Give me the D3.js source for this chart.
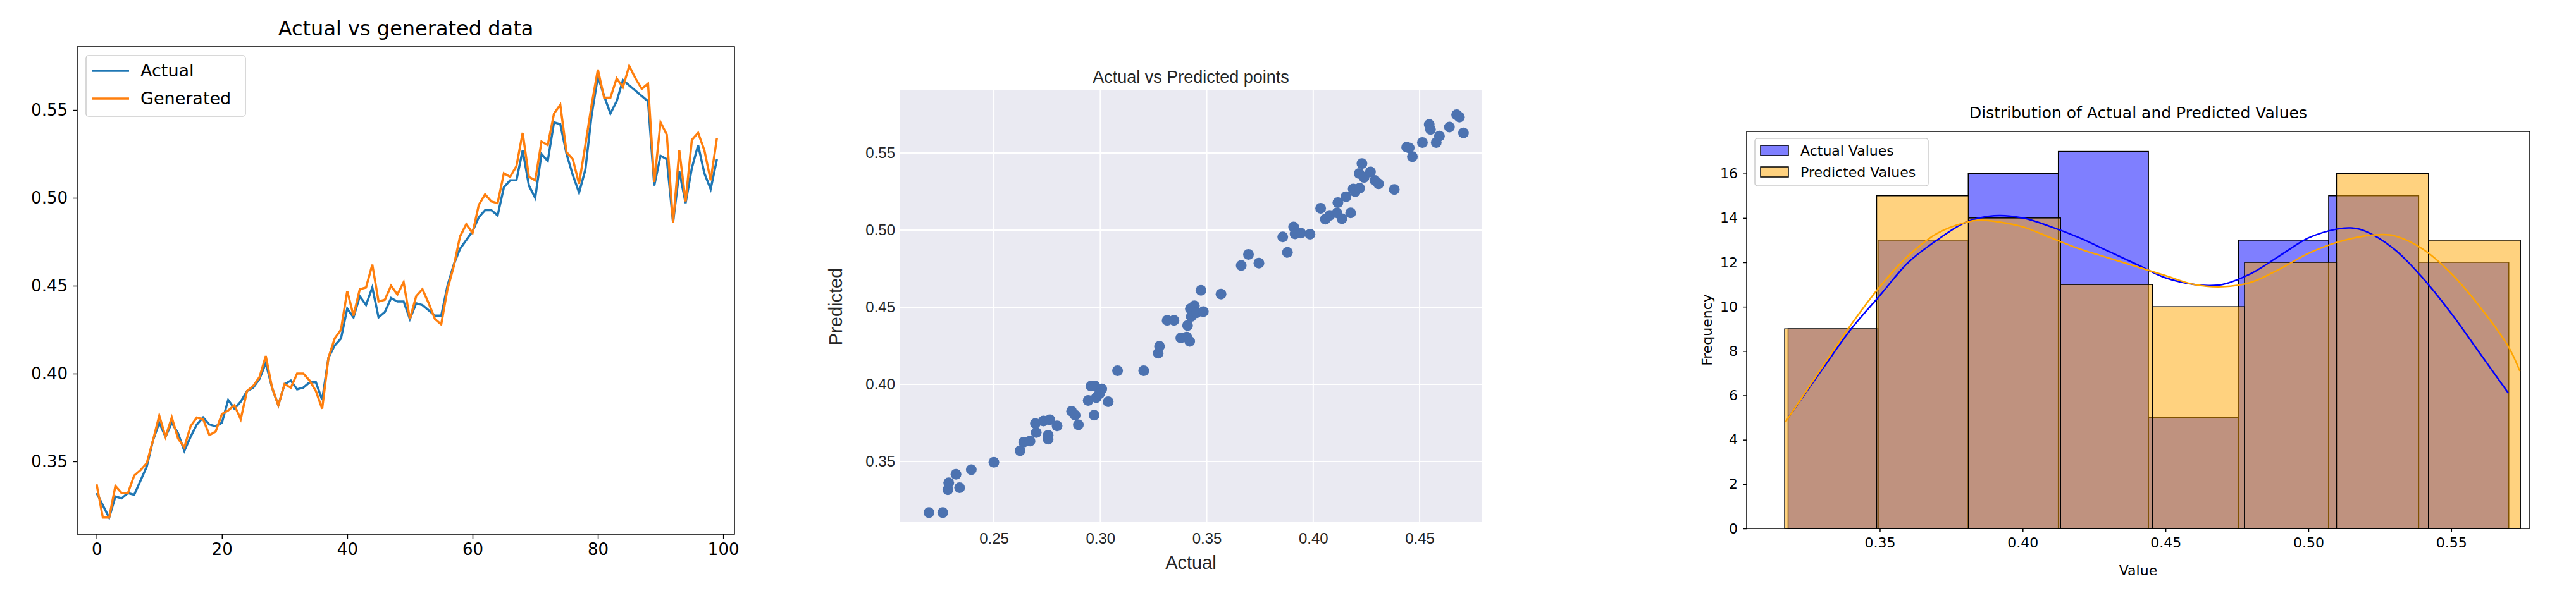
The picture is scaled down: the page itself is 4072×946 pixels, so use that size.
<!DOCTYPE html>
<html><head><meta charset="utf-8">
<script src="https://cdn.jsdelivr.net/npm/d3@7"></script>
<style>body{margin:0;background:#fff}</style></head>
<body><svg id="c" width="4072" height="946"></svg>
<script>
const actualSeries=[0.332,0.325,0.318,0.330,0.329,0.332,0.331,0.339,0.347,0.362,0.372,0.364,0.372,0.366,0.356,0.364,0.371,0.375,0.371,0.370,0.372,0.385,0.380,0.384,0.390,0.392,0.397,0.406,0.392,0.382,0.394,0.396,0.391,0.392,0.395,0.395,0.385,0.409,0.416,0.420,0.437,0.432,0.444,0.439,0.449,0.432,0.435,0.443,0.441,0.441,0.431,0.440,0.439,0.436,0.433,0.433,0.450,0.462,0.471,0.476,0.481,0.489,0.493,0.493,0.490,0.506,0.510,0.510,0.527,0.507,0.500,0.525,0.521,0.543,0.542,0.525,0.513,0.503,0.516,0.547,0.569,0.558,0.548,0.555,0.567,0.564,0.561,0.558,0.555,0.507,0.524,0.522,0.486,0.515,0.497,0.517,0.530,0.514,0.505,0.522];
const generatedSeries=[0.337,0.318,0.318,0.336,0.332,0.332,0.342,0.345,0.349,0.362,0.376,0.364,0.375,0.363,0.358,0.370,0.375,0.374,0.365,0.367,0.377,0.379,0.382,0.374,0.390,0.393,0.398,0.410,0.392,0.382,0.394,0.392,0.400,0.400,0.396,0.390,0.380,0.409,0.420,0.425,0.447,0.433,0.448,0.449,0.462,0.441,0.442,0.450,0.445,0.452,0.431,0.444,0.448,0.440,0.431,0.428,0.448,0.461,0.478,0.485,0.480,0.496,0.502,0.498,0.497,0.514,0.512,0.518,0.537,0.512,0.510,0.532,0.530,0.548,0.553,0.526,0.522,0.508,0.530,0.553,0.573,0.557,0.557,0.568,0.563,0.575,0.568,0.562,0.565,0.509,0.543,0.536,0.486,0.527,0.498,0.533,0.537,0.527,0.510,0.534];
const scatterActual=[0.2195,0.226,0.2284,0.2288,0.2322,0.2339,0.2394,0.25,0.2623,0.2640,0.2670,0.2699,0.2695,0.2733,0.2763,0.2755,0.2755,0.2797,0.2865,0.2882,0.2897,0.2971,0.2943,0.2956,0.2975,0.2981,0.3007,0.2996,0.3037,0.3081,0.3204,0.3272,0.3278,0.3314,0.3346,0.3378,0.3406,0.3420,0.3410,0.3423,0.3442,0.3427,0.3452,0.3484,0.3473,0.3567,0.3662,0.3696,0.3745,0.3857,0.3879,0.3908,0.3915,0.3942,0.3985,0.4035,0.4057,0.4078,0.4116,0.4112,0.4135,0.4154,0.4176,0.4188,0.4197,0.4218,0.4216,0.4229,0.4239,0.4269,0.4290,0.4307,0.4381,0.4439,0.4451,0.4466,0.4513,0.4545,0.4551,0.4578,0.4593,0.4640,0.4674,0.4687,0.4706];
const scatterPred=[0.3169,0.3169,0.3317,0.3362,0.3417,0.3330,0.3447,0.3495,0.3570,0.3625,0.3633,0.3688,0.3746,0.3763,0.3771,0.3645,0.3670,0.3731,0.3826,0.3801,0.3738,0.3801,0.3896,0.3989,0.3989,0.3914,0.3971,0.3939,0.3888,0.4089,0.4089,0.4202,0.4247,0.4415,0.4415,0.4302,0.4307,0.4279,0.4382,0.4490,0.4510,0.4440,0.4465,0.4472,0.4610,0.4585,0.4771,0.4843,0.4786,0.4956,0.4856,0.5021,0.4976,0.4981,0.4974,0.5142,0.5071,0.5096,0.5179,0.5112,0.5074,0.5217,0.5112,0.5267,0.5249,0.5272,0.5367,0.5432,0.5342,0.5377,0.5322,0.5300,0.5264,0.5538,0.5533,0.5477,0.5568,0.5685,0.5653,0.5568,0.5610,0.5668,0.5748,0.5733,0.5630];
const actualBinStart=0.3179, actualBinWidth=0.03153, actualCounts=[9,13,16,17,5,13,15,12];
const predBinStart=0.3167, predBinWidth=0.03219, predCounts=[9,15,14,11,10,12,16,13];
const kdeActualX=[0.318,0.33,0.34,0.35,0.36,0.37,0.38,0.39,0.40,0.41,0.42,0.43,0.44,0.45,0.46,0.465,0.47,0.48,0.49,0.50,0.51,0.515,0.52,0.53,0.54,0.55,0.56,0.570];
const kdeActualY=[5.0,7.2,9.0,10.5,12.0,13.0,13.8,14.1,14.0,13.6,13.1,12.5,11.9,11.3,11.0,10.95,11.0,11.5,12.3,13.1,13.5,13.55,13.4,12.6,11.3,9.7,7.9,6.1];
const kdePredX=[0.317,0.33,0.34,0.35,0.36,0.37,0.38,0.385,0.39,0.40,0.41,0.42,0.43,0.44,0.45,0.46,0.47,0.48,0.49,0.50,0.51,0.52,0.525,0.53,0.54,0.55,0.56,0.57,0.574];
const kdePredY=[4.8,7.3,9.2,10.9,12.3,13.3,13.8,13.9,13.85,13.6,13.1,12.6,12.2,11.8,11.4,11.0,10.9,11.1,11.7,12.4,12.9,13.2,13.25,13.2,12.6,11.5,10.0,8.2,7.1];
const lineXTicks=[0,20,40,60,80,100], lineYTicks=[0.35,0.40,0.45,0.50,0.55];
const scXTicks=[0.25,0.30,0.35,0.40,0.45], scYTicks=[0.35,0.40,0.45,0.50,0.55];
const hXTicks=[0.35,0.40,0.45,0.50,0.55], hYTicks=[0,2,4,6,8,10,12,14,16];

const svg=d3.select("#c");
const DJ="DejaVu Sans", AR="Liberation Sans, Arial";
function axes(g,x,y,xt,yt,fmtX,fmtY,fs,font,tick){
  const ax=g.append("g").attr("transform",`translate(0,${y.range()[0]})`).call(d3.axisBottom(x).tickValues(xt).tickFormat(fmtX).tickSize(tick).tickPadding(8));
  const ay=g.append("g").attr("transform",`translate(${x.range()[0]},0)`).call(d3.axisLeft(y).tickValues(yt).tickFormat(fmtY).tickSize(tick).tickPadding(8));
  [ax,ay].forEach(a=>{a.select(".domain").remove();a.selectAll("text").attr("font-family",font).attr("font-size",fs).attr("fill","#000");a.selectAll("line").attr("stroke","#000").attr("stroke-width",1.5);});
  return [ax,ay];
}
// Panel 1
{
const X0=122,X1=1161,Y0=74,Y1=845;
const x=d3.scaleLinear().domain([-3.1,101.8]).range([X0,X1]);
const y=d3.scaleLinear().domain([0.3086,0.586]).range([Y1,Y0]);
const g=svg.append("g");
axes(g,x,y,lineXTicks,lineYTicks,d3.format("d"),d3.format(".2f"),26,DJ,7);
const ln=d3.line().x((d,i)=>x(i)).y(d=>y(d));
g.append("path").attr("d",ln(actualSeries)).attr("fill","none").attr("stroke","#1f77b4").attr("stroke-width",3.5);
g.append("path").attr("d",ln(generatedSeries)).attr("fill","none").attr("stroke","#ff7f0e").attr("stroke-width",3.5);
g.append("rect").attr("x",X0).attr("y",Y0).attr("width",X1-X0).attr("height",Y1-Y0).attr("fill","none").attr("stroke","#000").attr("stroke-width",1.5);
g.append("text").attr("x",(X0+X1)/2).attr("y",56).attr("text-anchor","middle").attr("font-family",DJ).attr("font-size",32).text("Actual vs generated data");
const L=g.append("g");
L.append("rect").attr("x",136).attr("y",88).attr("width",252).attr("height",96).attr("rx",4).attr("fill","#fff").attr("stroke","#ccc").attr("stroke-width",1.5);
[["Actual","#1f77b4"],["Generated","#ff7f0e"]].forEach((d,i)=>{
 L.append("line").attr("x1",146).attr("x2",204).attr("y1",112+i*44).attr("y2",112+i*44).attr("stroke",d[1]).attr("stroke-width",3.5);
 L.append("text").attr("x",222).attr("y",121+i*44).attr("font-family",DJ).attr("font-size",27).text(d[0]);
});
}
// Panel 2
{
const X0=1423,X1=2342,Y0=143,Y1=826;
const x=d3.scaleLinear().domain([0.206,0.4791]).range([X0,X1]);
const y=d3.scaleLinear().domain([0.3107,0.5906]).range([Y1,Y0]);
const g=svg.append("g");
g.append("rect").attr("x",X0).attr("y",Y0).attr("width",X1-X0).attr("height",Y1-Y0).attr("fill","#eaeaf2");
scXTicks.forEach(t=>g.append("line").attr("x1",x(t)).attr("x2",x(t)).attr("y1",Y0).attr("y2",Y1).attr("stroke","#fff").attr("stroke-width",2));
scYTicks.forEach(t=>g.append("line").attr("y1",y(t)).attr("y2",y(t)).attr("x1",X0).attr("x2",X1).attr("stroke","#fff").attr("stroke-width",2));
const [ax,ay]=axes(g,x,y,scXTicks,scYTicks,d3.format(".2f"),d3.format(".2f"),24,AR,0);
[ax,ay].forEach(a=>a.selectAll("text").attr("fill","#262626"));
ax.selectAll("text").attr("dy","1.1em");
g.selectAll(".pt").data(scatterActual).join("circle").attr("cx",d=>x(d)).attr("cy",(d,i)=>y(scatterPred[i])).attr("r",8.5).attr("fill","#4c72b0");
g.append("text").attr("x",(X0+X1)/2).attr("y",131).attr("text-anchor","middle").attr("font-family",AR).attr("font-size",27).attr("fill","#262626").text("Actual vs Predicted points");
g.append("text").attr("x",(X0+X1)/2).attr("y",900).attr("text-anchor","middle").attr("font-family",AR).attr("font-size",29).attr("fill","#262626").text("Actual");
g.append("text").attr("transform","translate(1331,485) rotate(-90)").attr("text-anchor","middle").attr("font-family",AR).attr("font-size",29).attr("fill","#262626").text("Predicted");
}
// Panel 3
{
const X0=2761,X1=3999,Y0=208,Y1=836;
const x=d3.scaleLinear().domain([0.3034,0.5775]).range([X0,X1]);
const y=d3.scaleLinear().domain([0,17.9]).range([Y1,Y0]);
const g=svg.append("g");
axes(g,x,y,hXTicks,hYTicks,d3.format(".2f"),d3.format("d"),22,DJ,6);
const bars=(start,w,counts,fill)=>g.append("g").selectAll("rect").data(counts).join("rect")
 .attr("x",(d,i)=>x(start+i*w)).attr("width",x(start+w)-x(start)).attr("y",d=>y(d)).attr("height",d=>y(0)-y(d))
 .attr("fill",fill).attr("fill-opacity",0.5).attr("stroke","#000").attr("stroke-width",1.5);
bars(actualBinStart,actualBinWidth,actualCounts,"#0000ff");
bars(predBinStart,predBinWidth,predCounts,"#ffa500");
const kl=(xs,ys)=>d3.line().curve(d3.curveCatmullRom).x((d,i)=>x(xs[i])).y(d=>y(d))(ys);
g.append("path").attr("d",kl(kdeActualX,kdeActualY)).attr("fill","none").attr("stroke","#0000ff").attr("stroke-width",2.5);
g.append("path").attr("d",kl(kdePredX,kdePredY)).attr("fill","none").attr("stroke","#ffa500").attr("stroke-width",2.5);
g.append("rect").attr("x",X0).attr("y",Y0).attr("width",X1-X0).attr("height",Y1-Y0).attr("fill","none").attr("stroke","#000").attr("stroke-width",1.5);
g.append("text").attr("x",(X0+X1)/2).attr("y",187).attr("text-anchor","middle").attr("font-family",DJ).attr("font-size",25).text("Distribution of Actual and Predicted Values");
g.append("text").attr("x",(X0+X1)/2).attr("y",910).attr("text-anchor","middle").attr("font-family",DJ).attr("font-size",22).text("Value");
g.append("text").attr("transform","translate(2706,522) rotate(-90)").attr("text-anchor","middle").attr("font-family",DJ).attr("font-size",22).text("Frequency");
const L=g.append("g");
L.append("rect").attr("x",2774).attr("y",219).attr("width",274).attr("height",75).attr("rx",4).attr("fill","#fff").attr("stroke","#ccc").attr("stroke-width",1.5);
[["Actual Values","#0000ff"],["Predicted Values","#ffa500"]].forEach((d,i)=>{
 L.append("rect").attr("x",2783).attr("y",230+i*34).attr("width",44).attr("height",16).attr("fill",d[1]).attr("fill-opacity",0.5).attr("stroke","#000").attr("stroke-width",1.5);
 L.append("text").attr("x",2846).attr("y",246+i*34).attr("font-family",DJ).attr("font-size",22).text(d[0]);
});
}
</script></body></html>
